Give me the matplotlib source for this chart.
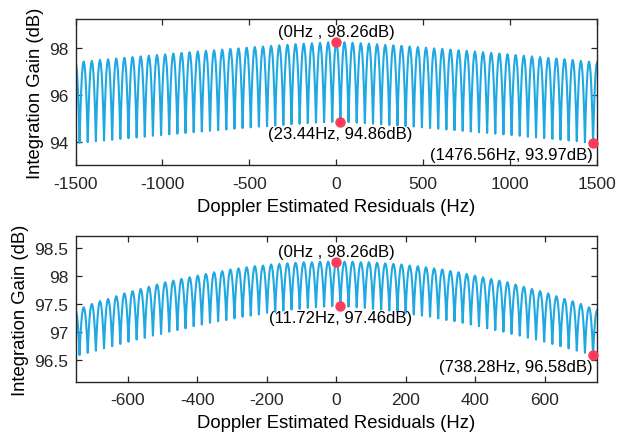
import matplotlib
matplotlib.use("Agg")
import matplotlib.pyplot as plt
import numpy as np

plt.rcParams["font.family"] = ["Liberation Sans", "DejaVu Sans"]
plt.rcParams["axes.unicode_minus"] = False

# --- data -------------------------------------------------------------
# lobe peaks (0 Hz outwards) and the cusps between them, in dB; both sides mirror
TOP_SPACING = 46.875
TOP_PEAKS = [98.26, 98.25, 98.23, 98.21, 98.19, 98.17, 98.14, 98.12, 98.10,
             98.07, 98.05, 98.02, 97.99, 97.97, 97.94, 97.91, 97.89, 97.86,
             97.83, 97.80, 97.77, 97.74, 97.71, 97.68, 97.65, 97.62, 97.59,
             97.56, 97.53, 97.50, 97.46, 97.43, 97.40]
TOP_TROUGHS = [94.86, 94.85, 94.83, 94.81, 94.78, 94.76, 94.73, 94.71, 94.68,
               94.66, 94.63, 94.60, 94.57, 94.54, 94.51, 94.48, 94.45, 94.42,
               94.39, 94.36, 94.33, 94.30, 94.27, 94.23, 94.20, 94.17, 94.14,
               94.10, 94.07, 94.04, 94.00, 93.97]

BOT_SPACING = 23.4375
BOT_PEAKS = [98.26, 98.26, 98.26, 98.25, 98.25, 98.24, 98.23, 98.22, 98.21,
             98.19, 98.18, 98.16, 98.14, 98.12, 98.09, 98.07, 98.04, 98.01,
             97.98, 97.95, 97.92, 97.89, 97.85, 97.81, 97.77, 97.73, 97.69,
             97.64, 97.59, 97.55, 97.50, 97.44, 97.39]
BOT_TROUGHS = [97.46, 97.45, 97.44, 97.43, 97.41, 97.40, 97.38, 97.36, 97.34,
               97.31, 97.29, 97.27, 97.24, 97.21, 97.19, 97.16, 97.13, 97.10,
               97.06, 97.03, 97.00, 96.96, 96.93, 96.89, 96.86, 96.82, 96.78,
               96.74, 96.70, 96.66, 96.62, 96.58]

# shape of one half lobe: offset (fraction of spacing) vs share of the peak-to-cusp drop
LOBE_FRAC = [0.0, 0.1, 0.2, 0.3, 0.4, 0.5]
LOBE_DROP = [0.0, 0.04, 0.15, 0.35, 0.62, 1.0]

TOP_MARKS_HZ = [0.0, 23.44, 1476.56]
TOP_MARKS_DB = [98.26, 94.86, 93.97]
BOT_MARKS_HZ = [0.0, 11.72, 738.28]
BOT_MARKS_DB = [98.26, 97.46, 96.58]

LINE_COLOR = "#1fa8e1"
DOT_COLOR = "#fa3c5a"
AX_COLOR = "#262626"


def build_curve(peaks_half, troughs_half, spacing):
    peaks = np.array(peaks_half[::-1] + peaks_half[1:])
    troughs = np.array(troughs_half[::-1] + troughs_half)
    n = len(peaks) // 2
    frac = np.array(LOBE_FRAC)
    drop = np.array(LOBE_DROP)
    xs, ys = [], []
    for i in range(len(troughs)):
        f0 = (i - n) * spacing
        f1 = f0 + spacing
        p0, p1, t = peaks[i], peaks[i + 1], troughs[i]
        # falling side from peak i to the cusp
        xs.extend(f0 + frac * spacing)
        ys.extend(p0 - (p0 - t) * drop)
        # rising side up to peak i+1
        xs.extend(f1 - frac[-2::-1] * spacing)
        ys.extend(p1 - (p1 - t) * drop[-2::-1])
    return np.array(xs), np.array(ys)


def style_axis(ax, xlim, xticks, ylim, yticks):
    ax.set_xlim(*xlim)
    ax.set_ylim(*ylim)
    ax.set_xticks(xticks)
    ax.set_yticks(yticks)
    ax.set_yticklabels([f"{v:g}" for v in yticks])
    ax.tick_params(direction="in", top=True, right=True, length=4,
                   width=0.9, labelsize=12.5, colors=AX_COLOR)
    ax.tick_params(axis="x", pad=7.5)
    ax.tick_params(axis="y", pad=5)
    for sp in ax.spines.values():
        sp.set_color(AX_COLOR)
        sp.set_linewidth(1.0)
    ax.set_xlabel("Doppler Estimated Residuals (Hz)", fontsize=13.3, labelpad=5)
    ax.set_ylabel("Integration Gain (dB)", fontsize=13.3, labelpad=4)


fig = plt.figure(figsize=(6.24, 4.35), dpi=100)
ax_top = fig.add_axes([0.121, 0.618, 0.836, 0.336])
ax_bot = fig.add_axes([0.121, 0.120, 0.836, 0.335])

x, y = build_curve(TOP_PEAKS, TOP_TROUGHS, TOP_SPACING)
ax_top.plot(x, y, color=LINE_COLOR, lw=1.5)
ax_top.plot(TOP_MARKS_HZ, TOP_MARKS_DB, "o", color=DOT_COLOR, ms=6.5,
            clip_on=False, zorder=5)
style_axis(ax_top, (-1500, 1500), np.arange(-1500, 1501, 500),
           (93.02, 99.24), [94, 96, 98])

x, y = build_curve(BOT_PEAKS, BOT_TROUGHS, BOT_SPACING)
ax_bot.plot(x, y, color=LINE_COLOR, lw=1.5)
ax_bot.plot(BOT_MARKS_HZ, BOT_MARKS_DB, "o", color=DOT_COLOR, ms=6.5,
            clip_on=False, zorder=5)
style_axis(ax_bot, (-750, 750), np.arange(-600, 601, 200),
           (96.1, 98.72), [96.5, 97, 97.5, 98, 98.5])

ann = dict(textcoords="offset points", fontsize=12, color="black")
for ax, hz, db in ((ax_top, TOP_MARKS_HZ, TOP_MARKS_DB),
                   (ax_bot, BOT_MARKS_HZ, BOT_MARKS_DB)):
    ax.annotate(f"({hz[0]:g}Hz , {db[0]:.2f}dB)", (hz[0], db[0]),
                xytext=(0, 2), ha="center", va="bottom", **ann)
    ax.annotate(f"({hz[1]:.2f}Hz, {db[1]:.2f}dB)", (hz[1], db[1]),
                xytext=(0, -3), ha="center", va="top", **ann)
    ax.annotate(f"({hz[2]:.2f}Hz, {db[2]:.2f}dB)", (hz[2], db[2]),
                xytext=(0, -3), ha="right", va="top", **ann)

fig.savefig("out.png", dpi=100)
